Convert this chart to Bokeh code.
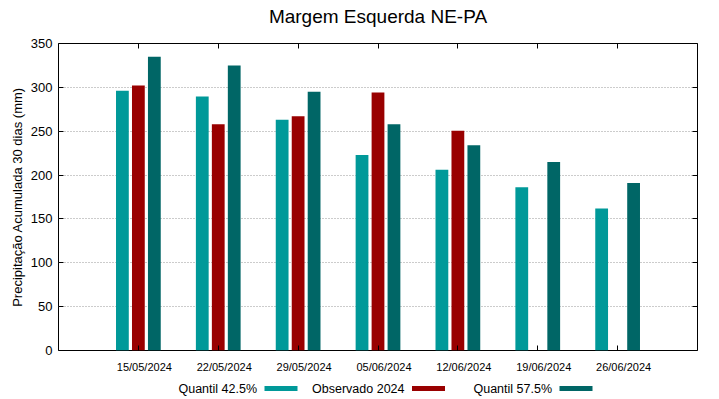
from bokeh.plotting import figure
from bokeh.models import (Range1d, LinearAxis, FixedTicker, ColumnDataSource, Grid,
                          CustomJSTickFormatter)
from bokeh.layouts import column
from bokeh.core.properties import value
from bokeh.transform import dodge
from bokeh.embed import file_html
from bokeh.resources import INLINE
import numpy as np

title_text = "Margem Esquerda NE-PA"
dates = ["15/05/2024", "22/05/2024", "29/05/2024", "05/06/2024",
         "12/06/2024", "19/06/2024", "26/06/2024"]
quantil_425 = [296, 289.5, 263, 223, 206, 186, 162]
observado_2024 = [302, 258, 267, 294, 250.5, np.nan, np.nan]
quantil_575 = [335, 325, 295, 258, 234, 215, 191]
y_ticks = [0, 50, 100, 150, 200, 250, 300, 350]
series_names = ["Quantil 42.5%", "Observado 2024", "Quantil 57.5%"]

FONT = "Liberation Sans"
COLORS = ["#009999", "#990000", "#006666"]
W = 719
FRAME_L, FRAME_R = 58, 697


def strip(height):
    f = figure(width=W, height=height, x_range=Range1d(FRAME_L, FRAME_R),
               y_range=Range1d(0, height), output_backend="svg", toolbar_location=None,
               x_axis_location=None, y_axis_location=None,
               min_border=0, min_border_left=FRAME_L, min_border_right=W - FRAME_R,
               min_border_top=0, min_border_bottom=0)
    f.grid.visible = False
    f.outline_line_color = None
    return f


# title strip
TH = 28
ts = strip(TH)
ts.text(x=[(FRAME_L + FRAME_R) / 2], y=[TH - 16], text=[title_text], text_align="center",
        text_baseline="middle", text_font=value(FONT), text_font_size="19px",
        text_color="black")

xpos = list(range(len(dates)))
src = ColumnDataSource(dict(x=xpos, q1=quantil_425, ob=observado_2024, q2=quantil_575))

p = figure(width=W, height=376 - TH, x_range=Range1d(-1, 7), y_range=Range1d(0, 350),
           output_backend="svg", toolbar_location=None,
           x_axis_location=None, y_axis_location=None,
           min_border_left=FRAME_L, min_border_right=W - FRAME_R,
           min_border_top=43 - TH, min_border_bottom=26)
p.grid.visible = False
p.outline_line_color = "black"
p.outline_line_width = 1

p.add_layout(Grid(dimension=1, ticker=FixedTicker(ticks=y_ticks),
                  grid_line_color="#999999", grid_line_dash="1 2", grid_line_width=1))

for col, off, c in zip(["q1", "ob", "q2"], [-0.2, 0.0, 0.2], COLORS):
    p.vbar(x=dodge("x", off, range=p.x_range), top=col, width=0.16, source=src,
           fill_color=c, line_color=None)

blank = CustomJSTickFormatter(code="return ''")

label_shift = 0.075
bottom = LinearAxis(ticker=FixedTicker(ticks=[v + label_shift for v in xpos], minor_ticks=xpos),
                    major_label_overrides={v + label_shift: d for v, d in zip(xpos, dates)})
bottom.major_tick_line_color = None
bottom.minor_tick_in = 5
bottom.minor_tick_out = 0
bottom.axis_line_color = None
bottom.major_label_standoff = 4
bottom.major_label_text_font = FONT
bottom.major_label_text_font_size = "11px"
bottom.major_label_text_color = "black"
p.add_layout(bottom, "below")

top = LinearAxis(ticker=FixedTicker(ticks=xpos, minor_ticks=[]), formatter=blank)
top.major_tick_in = 5
top.major_tick_out = 0
top.axis_line_color = None
top.major_label_standoff = 0
p.add_layout(top, "above")

left = LinearAxis(ticker=FixedTicker(ticks=y_ticks, minor_ticks=[]),
                  axis_label="Precipitação Acumulada 30 dias (mm)")
left.major_tick_in = 5
left.major_tick_out = 0
left.axis_line_color = None
left.major_label_standoff = 6
left.major_label_text_font = FONT
left.major_label_text_font_size = "13px"
left.major_label_text_color = "black"
left.axis_label_text_font = FONT
left.axis_label_text_font_size = "13px"
left.axis_label_text_font_style = "normal"
left.axis_label_text_color = "black"
left.axis_label_standoff = 3
p.add_layout(left, "left")

right = LinearAxis(ticker=FixedTicker(ticks=y_ticks, minor_ticks=[]), formatter=blank)
right.major_tick_in = 5
right.major_tick_out = 0
right.axis_line_color = None
right.major_label_standoff = 0
p.add_layout(right, "right")

# legend strip, gnuplot style: right-aligned text followed by a swatch, equal columns
LH = 23
lg = strip(LH)
col_w = 147.5
sw_center0 = 280.5
sw_w, sw_h, gap = 33, 5, 7.5
row_y = 11
sw_x = [sw_center0 + i * col_w for i in range(len(series_names))]
leg_src = ColumnDataSource(dict(
    sx=sw_x,
    tx=[x - sw_w / 2 - gap for x in sw_x],
    y=[row_y] * len(series_names),
    name=series_names,
    color=COLORS,
))
lg.rect(x="sx", y="y", width=sw_w, height=sw_h, fill_color="color", line_color=None,
        source=leg_src)
lg.text(x="tx", y="y", text="name", source=leg_src, text_align="right",
        text_baseline="middle", text_font=value(FONT), text_font_size="12.5px",
        text_color="black")

layout = column(ts, p, lg, spacing=0)
open("out.html", "w").write(file_html(layout, INLINE))
